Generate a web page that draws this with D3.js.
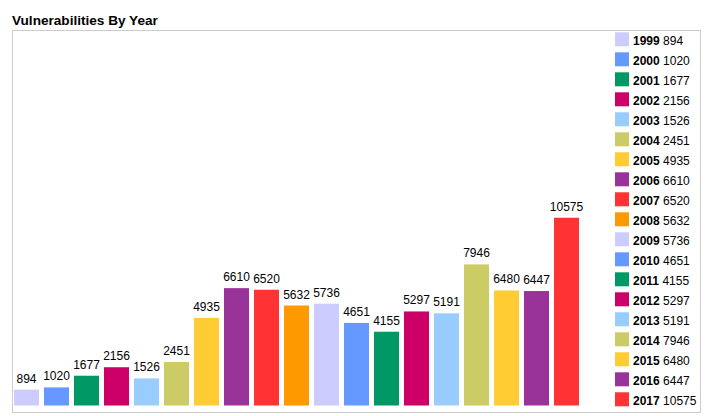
<!DOCTYPE html>
<html>
<head>
<meta charset="utf-8">
<script src="https://cdn.jsdelivr.net/npm/d3@7/dist/d3.min.js"></script>
<style>
  html, body { margin: 0; padding: 0; background: #fff; }
  svg { display: block; font-family: "Liberation Sans", Arial, sans-serif; }
</style>
</head>
<body>
<svg id="chart" width="721" height="416"></svg>
<script>
const years = ["1999","2000","2001","2002","2003","2004","2005","2006","2007","2008","2009","2010","2011","2012","2013","2014","2015","2016","2017"];
const values = [894,1020,1677,2156,1526,2451,4935,6610,6520,5632,5736,4651,4155,5297,5191,7946,6480,6447,10575];
const palette = ["#ccccff","#6699ff","#009966","#cc0066","#99ccff","#cccc66","#ffcc33","#993399","#ff3333","#ff9900"];
const title = "Vulnerabilities By Year";

const data = years.map((y, i) => ({ year: y, value: values[i] }));
const svg = d3.select("#chart");

svg.append("text")
  .attr("x", 12).attr("y", 24.5)
  .attr("font-size", "13.6px").attr("font-weight", "bold")
  .attr("fill", "#000")
  .text(title);

svg.append("rect")
  .attr("x", 12.5).attr("y", 30.5)
  .attr("width", 688).attr("height", 382)
  .attr("fill", "#fff").attr("stroke", "#cccccc").attr("stroke-width", 1);

const color = d3.scaleOrdinal().domain(years).range(years.map((y, i) => palette[i % palette.length]));

const x = d3.scaleBand().domain(years).range([11.5, 581.5]).paddingInner(1/6).paddingOuter(1/12);
const y = d3.scaleLinear().domain([0, d3.max(values) * 2]).range([405.5, 30]);

const g = svg.append("g");
g.selectAll("rect.bar").data(data).enter().append("rect")
  .attr("class", "bar")
  .attr("x", d => x(d.year))
  .attr("y", d => y(d.value))
  .attr("width", x.bandwidth())
  .attr("height", d => y(0) - y(d.value))
  .attr("fill", d => color(d.year));

g.selectAll("text.lbl").data(data).enter().append("text")
  .attr("class", "lbl")
  .attr("x", d => x(d.year) + x.bandwidth() / 2)
  .attr("y", d => y(d.value) - 7)
  .attr("text-anchor", "middle")
  .attr("font-size", "12px")
  .attr("fill", "#000")
  .text(d => d.value);

const ly = d3.scaleBand().domain(years).range([32.3, 32.3 + 20 * years.length]);
const leg = svg.append("g").selectAll("g").data(data).enter().append("g")
  .attr("transform", d => `translate(615,${ly(d.year)})`);
leg.append("rect").attr("width", 14).attr("height", 14).attr("fill", d => color(d.year));
const lt = leg.append("text").attr("x", 18).attr("y", 12.7).attr("font-size", "12px").attr("fill", "#000");
lt.append("tspan").attr("font-weight", "bold").text(d => d.year);
lt.append("tspan").text(d => " " + d.value);
</script>
</body>
</html>
